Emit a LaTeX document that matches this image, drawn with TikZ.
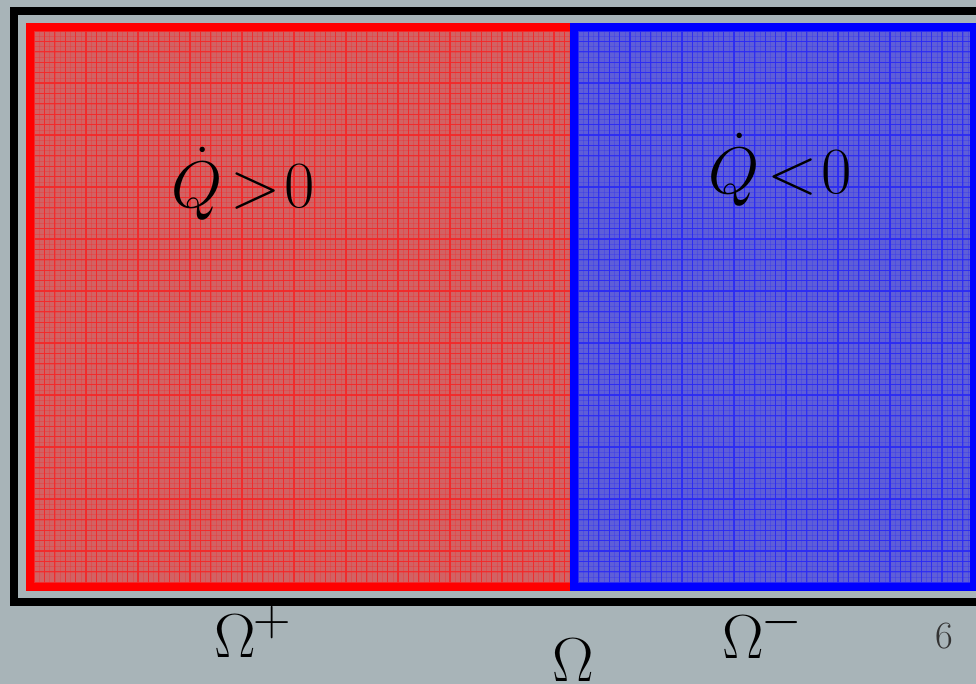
\documentclass[tikz,border=0pt]{standalone}
\usepackage{amsmath}
\usepackage{graphicx}
\begin{document}
\begin{tikzpicture}[x=1pt,y=-1pt,
  bigmath/.style={font=\Huge, inner sep=0pt},
  region/.style={line width=8pt},
  fineline/.style={line width=0.3pt, opacity=0.3},
  coarseline/.style={line width=1.2pt, opacity=0.9},
]
\definecolor{bgray}{HTML}{A8B4B8}
\definecolor{redfill}{HTML}{D26263}
\definecolor{bluefill}{HTML}{5E5ED8}
\definecolor{redgrid}{HTML}{F42828}
\definecolor{bluegrid}{HTML}{2A2AF4}
\definecolor{pagenum}{HTML}{333333}
\useasboundingbox (0,0) rectangle (976,684);
\clip (0,0) rectangle (976,684);
\fill[bgray] (0,0) rectangle (976,684);
% outer black frame
\draw[line width=8pt, black] (14,11) rectangle (990,602);
% red region
\fill[redfill] (30,27) rectangle (574,587);
\begin{scope}
  \clip (34,31) rectangle (570,583);
  \foreach \i in {0,...,104} {
    \draw[redgrid, fineline] ({34+5.2*\i},31) -- ({34+5.2*\i},583);
    \draw[redgrid, fineline] (34,{31+5.2*\i}) -- (570,{31+5.2*\i});
  }
  \foreach \i in {0,...,53} {
    \draw[redgrid, coarseline] ({34+10.4*\i},31) -- ({34+10.4*\i},583);
    \draw[redgrid, coarseline] (34,{31+10.4*\i}) -- (570,{31+10.4*\i});
  }
\end{scope}
\draw[region, red] (30,27) rectangle (574,587);
% blue region
\fill[bluefill] (574,27) rectangle (974,587);
\begin{scope}
  \clip (578,31) rectangle (970,583);
  \foreach \i in {0,...,107} {
    \draw[bluegrid, fineline] ({578+5.2*\i},31) -- ({578+5.2*\i},583);
    \draw[bluegrid, fineline] (578,{31+5.2*\i}) -- (970,{31+5.2*\i});
  }
  \foreach \i in {0,...,54} {
    \draw[bluegrid, coarseline] ({578+10.4*\i},31) -- ({578+10.4*\i},583);
    \draw[bluegrid, coarseline] (578,{31+10.4*\i}) -- (970,{31+10.4*\i});
  }
\end{scope}
\draw[region, blue] (574,27) rectangle (974,587);
% labels
\node[bigmath] (qpos) at (243,184) {\scalebox{2.65}{$\dot{Q}\mkern-3mu>\mkern-4mu0$}};
\node[bigmath] (qneg) at (780,170) {\scalebox{2.65}{$\dot{Q}\mkern-3mu<\mkern-4mu0$}};
\node[bigmath] (omplus) at (253,632) {\scalebox{2.5}{$\Omega^{\mkern-1mu+}$}};
\node[bigmath] (omminus) at (763,632) {\scalebox{2.5}{$\Omega^{\mkern-1mu-}$}};
\node[bigmath, anchor=north] (om) at (573,639) {\scalebox{2.5}{$\Omega$}};
\node[bigmath, text=pagenum] (pnum) at (944,636) {\scalebox{1.55}{6}};
\end{tikzpicture}
\end{document}
